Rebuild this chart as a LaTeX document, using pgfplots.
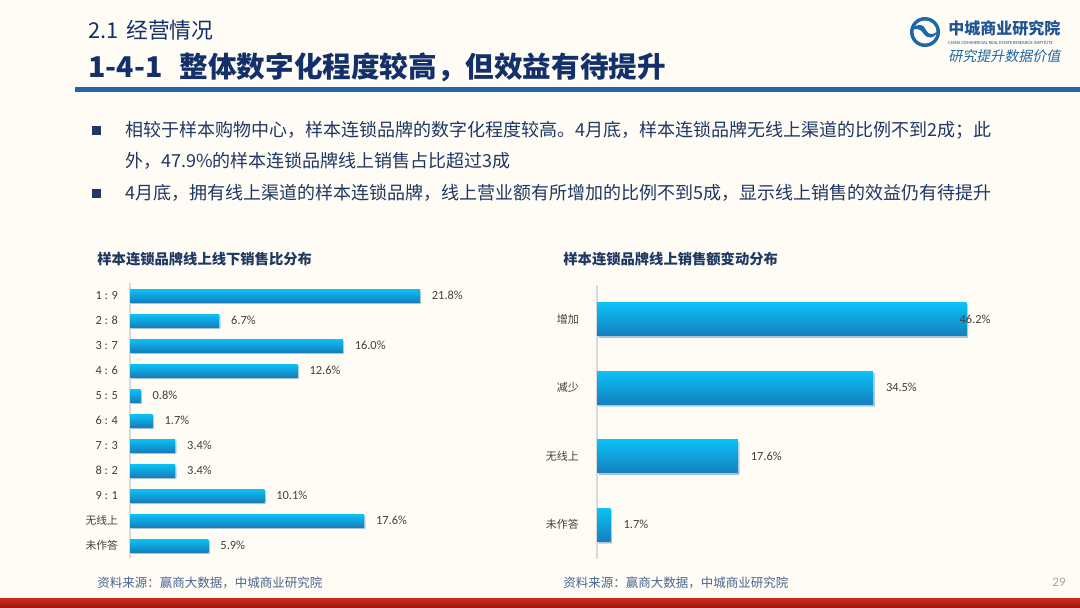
\documentclass[border=0pt]{standalone}
\usepackage{fontspec}
\usepackage{pgfplots}
\pgfplotsset{compat=1.18}
\usetikzlibrary{shadows}
\setmainfont{Carlito}
\newfontfamily\cjk{Noto Sans CJK SC}
\newfontfamily\cjkit[FakeSlant=0.2]{Noto Sans CJK SC}
\definecolor{bgc}{HTML}{FEFCF4}
\definecolor{navyT}{HTML}{14306A}
\definecolor{navy}{HTML}{1F3864}
\definecolor{lineblue}{HTML}{1F67A8}
\definecolor{bartop}{HTML}{0BC2F6}
\definecolor{barmid}{HTML}{11A6E0}
\definecolor{barbot}{HTML}{157FBE}
\definecolor{lbl}{HTML}{404040}
\definecolor{foot}{HTML}{4A6591}
\definecolor{logoblue}{HTML}{1F5594}
\definecolor{redA}{HTML}{CC2E1A}
\definecolor{redB}{HTML}{A3180B}

\pgfplotsset{
  slidebar/.style={
    scale only axis, clip=false, enlargelimits=false,
    axis x line=none, axis y line*=left,
    y axis line style={-, draw=black!15, line width=0.6pt},
    y dir=reverse, xtick=\empty,
    major tick length=0pt,
    yticklabel style={font=\fontsize{6.2}{7}\selectfont, text=lbl, xshift=-2.5pt},
    /pgf/number format/assume math mode=true,
    point meta=x,
    nodes near coords={\pgfmathprintnumber[fixed,fixed zerofill,precision=1]{\pgfplotspointmeta}\%},
  },
  lbar/.style={xbar, bar shift=0pt, bar width=6.5pt, draw=none,
    top color=bartop, middle color=barmid, bottom color=barbot,
    drop shadow={opacity=0.25, shadow xshift=0.6pt, shadow yshift=-0.8pt}},
  rbar/.style={xbar, bar shift=0pt, bar width=16.5pt, draw=none,
    top color=bartop, middle color=barmid, bottom color=barbot,
    drop shadow={opacity=0.25, shadow xshift=0.8pt, shadow yshift=-1pt}},
}

\begin{document}
\begin{tikzpicture}
\useasboundingbox (0,0) rectangle (540pt,-303.5pt);
\fill[bgc] (0,0) rectangle (540pt,-303.5pt);
\begin{scope}[x=0.5pt,y=-0.5pt]
  % header
  \node[anchor=west, inner sep=0, text=navyT, font=\cjk\fontsize{10.9}{12}\selectfont] at (88,30) {2.1\hspace{0.35em}经营情况};
  \node[anchor=west, inner sep=0, text=navyT, font=\cjk\bfseries\fontsize{14.3}{16}\selectfont] at (88,67) {1-4-1\hspace{0.6em}整体数字化程度较高，但效益有待提升};
  \fill[lineblue] (75,87) rectangle (1080,92);
  % logo
  \fill[lineblue] (925,32) circle (15);
  \fill[bgc] (925,32) circle (11.5);
  \fill[lineblue] (912,30) .. controls (917,22) and (924,24) .. (926,30) .. controls (928,35) and (934,36) .. (938,30)
     .. controls (935,40) and (926,39) .. (923,33) .. controls (921,29) and (916,28) .. (912,30) -- cycle;
  \node[anchor=west, inner sep=0, text=logoblue, font=\cjk\bfseries\fontsize{8}{9}\selectfont] at (948,28) {中城商业研究院};
  \node[anchor=west, inner sep=0, text=logoblue, font=\fontsize{2.3}{3}\selectfont] at (948,43) {CHINA COMMERCIAL REAL ESTATE RESEARCH INSTITUTE};
  \node[anchor=west, inner sep=0, text=lineblue, font=\cjkit\fontsize{7}{8}\selectfont] at (948,56) {研究提升数据价值};
  % bullets
  \fill[navy] (92,126) rectangle (101,135);
  \fill[navy] (92,189) rectangle (101,198);
  \begin{scope}[every node/.style={anchor=west, inner sep=0, text=navy, font=\cjk\fontsize{9}{10}\selectfont}]
    \node at (125,130) {相较于样本购物中心，样本连锁品牌的数字化程度较高。4月底，样本连锁品牌无线上渠道的比例不到2成；此};
    \node at (125,161) {外，47.9\%的样本连锁品牌线上销售占比超过3成};
    \node at (125,193) {4月底，拥有线上渠道的样本连锁品牌，线上营业额有所增加的比例不到5成，显示线上销售的效益仍有待提升};
  \end{scope}
  % chart titles
  \node[anchor=west, inner sep=0, text=navy, font=\cjk\bfseries\fontsize{7.15}{8}\selectfont] at (97,259) {样本连锁品牌线上线下销售比分布};
  \node[anchor=west, inner sep=0, text=navy, font=\cjk\bfseries\fontsize{7.15}{8}\selectfont] at (563,259) {样本连锁品牌线上销售额变动分布};
  % footers
  \node[anchor=west, inner sep=0, text=foot, font=\cjk\fontsize{6.25}{7}\selectfont] at (97,583) {资料来源：赢商大数据，中城商业研究院};
  \node[anchor=west, inner sep=0, text=foot, font=\cjk\fontsize{6.25}{7}\selectfont] at (563,583) {资料来源：赢商大数据，中城商业研究院};
  \node[anchor=east, inner sep=0, text=black!35, font=\fontsize{6.5}{7}\selectfont] at (1066,582) {29};
  \shade[top color=redA, bottom color=redB] (0,598) rectangle (1080,607);
\end{scope}

% left chart
\begin{axis}[slidebar,
  at={(65pt,-141.5pt)}, anchor=north west,
  width=159.6pt, height=137.5pt,
  xmin=0, xmax=24, ymin=-0.5, ymax=10.5,
  ytick={0,...,10},
  yticklabels={1 : 9, 2 : 8, 3 : 7, 4 : 6, 5 : 5, 6 : 4, 7 : 3, 8 : 2, 9 : 1,
    {\cjk\fontsize{5.4}{6}\selectfont 无线上}, {\cjk\fontsize{5.4}{6}\selectfont 未作答}},
  every node near coord/.append style={anchor=west, inner sep=0pt, xshift=5.8pt, text=lbl, font=\fontsize{6.2}{7}\selectfont},
]
\addplot[lbar] coordinates {(21.8,0)};
\addplot[lbar] coordinates {(6.7,1)};
\addplot[lbar] coordinates {(16.0,2)};
\addplot[lbar] coordinates {(12.6,3)};
\addplot[lbar] coordinates {(0.8,4)};
\addplot[lbar] coordinates {(1.7,5)};
\addplot[lbar] coordinates {(3.4,6)};
\addplot[lbar] coordinates {(3.4,7)};
\addplot[lbar] coordinates {(10.1,8)};
\addplot[lbar] coordinates {(17.6,9)};
\addplot[lbar] coordinates {(5.9,10)};
\end{axis}

% right chart
\begin{axis}[slidebar,
  at={(298.5pt,-142.5pt)}, anchor=north west,
  width=200pt, height=137pt,
  xmin=0, xmax=50, ymin=-0.5, ymax=3.5,
  ytick={0,...,3},
  yticklabels={增加, 减少, 无线上, 未作答},
  yticklabel style={font=\cjk\fontsize{5.5}{6}\selectfont, xshift=-3pt},
  every node near coord/.append style={anchor=west, inner sep=0pt, xshift=6.3pt, text=lbl, font=\fontsize{6.2}{7}\selectfont},
]
\addplot[rbar, every node near coord/.append style={xshift=-10pt}] coordinates {(46.2,0)};
\addplot[rbar] coordinates {(34.5,1)};
\addplot[rbar] coordinates {(17.6,2)};
\addplot[rbar] coordinates {(1.7,3)};
\end{axis}
\end{tikzpicture}
\end{document}
